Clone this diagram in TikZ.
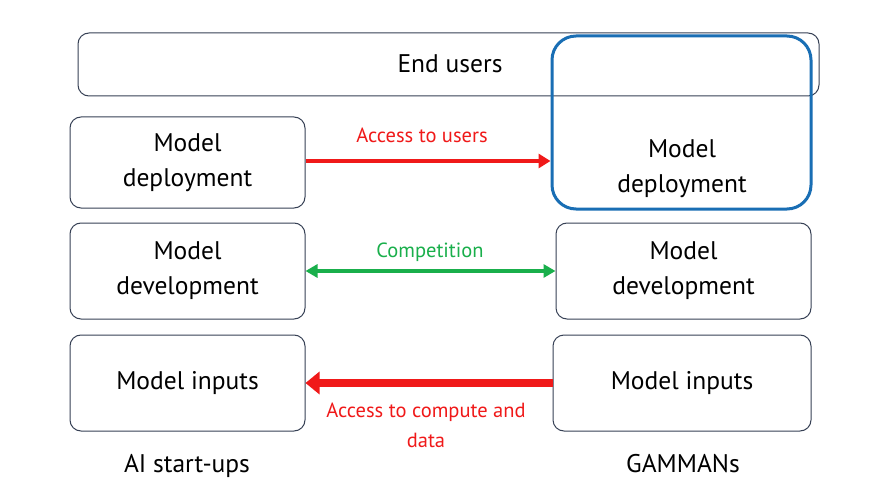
\documentclass[tikz,border=0pt]{standalone}
\usepackage{fontspec}
\setmainfont{PT Sans}
\usetikzlibrary{arrows.meta}
\definecolor{boxline}{RGB}{55,65,85}
\definecolor{hlblue}{RGB}{25,110,180}
\definecolor{arrred}{RGB}{240,25,25}
\definecolor{arrgreen}{RGB}{25,175,75}
\tikzset{
  box/.style={draw=boxline, line width=1pt, rounded corners=11pt, inner sep=0pt,
    align=center, font=\fontsize{25.5}{35}\selectfont, text=black},
  lbl/.style={font=\fontsize{20.5}{30}\selectfont, align=center, inner sep=0pt},
  captxt/.style={font=\fontsize{25.5}{35}\selectfont, inner sep=0pt},
}
\begin{document}
\begin{tikzpicture}[x=1pt,y=-1pt]
\useasboundingbox[fill=white] (0,0) rectangle (870,492);
% top box
\node[box, minimum width=741pt, minimum height=63pt] (end) at (448.5,64.5) {};
\node[captxt] (endt) at (450,64) {End users};
% left column
\node[box, minimum width=235pt, minimum height=91pt] (ldep) at (187.5,162.5) {Model\\deployment};
\node[box, minimum width=235pt, minimum height=96pt] (ldev) at (187.5,271) {Model\\development};
\node[box, minimum width=235pt, minimum height=96pt] (linp) at (187.5,383) {Model inputs};
% right column
\node[draw=hlblue, line width=3pt, rounded corners=24pt, minimum width=259pt, minimum height=173pt, inner sep=0pt] (rdep) at (681.5,122.5) {};
\node[captxt, align=center] (rdept) at (682,169) {Model\\deployment};
\node[box, minimum width=255pt, minimum height=96pt] (rdev) at (683.5,271) {Model\\development};
\node[box, minimum width=258pt, minimum height=96pt] (rinp) at (682,383) {Model inputs};
% arrows
\draw[arrred, line width=4pt, -{Triangle[length=12pt,width=14pt]}] (ldep.east |- 0,161) -- (rdep.west |- 0,161);
\node[lbl, text=arrred] (atu) at (422,135) {Access to users};
\draw[arrgreen, line width=3.5pt, {Triangle[length=12pt,width=13pt]}-{Triangle[length=12pt,width=13pt]}] (ldev.east) -- (rdev.west);
\node[lbl, text=arrgreen] (comp) at (430,252) {Competition};
\draw[arrred, line width=8pt, -{Triangle[length=14pt,width=22pt]}] (rinp.west) -- (linp.east);
\node[lbl, text=arrred] (acd) at (426,425) {Access to compute and\\data};
% captions
\node[captxt] (ai) at (187,466) {AI start-ups};
\node[captxt] (gm) at (683,464) {GAMMANs};
\end{tikzpicture}
\end{document}
